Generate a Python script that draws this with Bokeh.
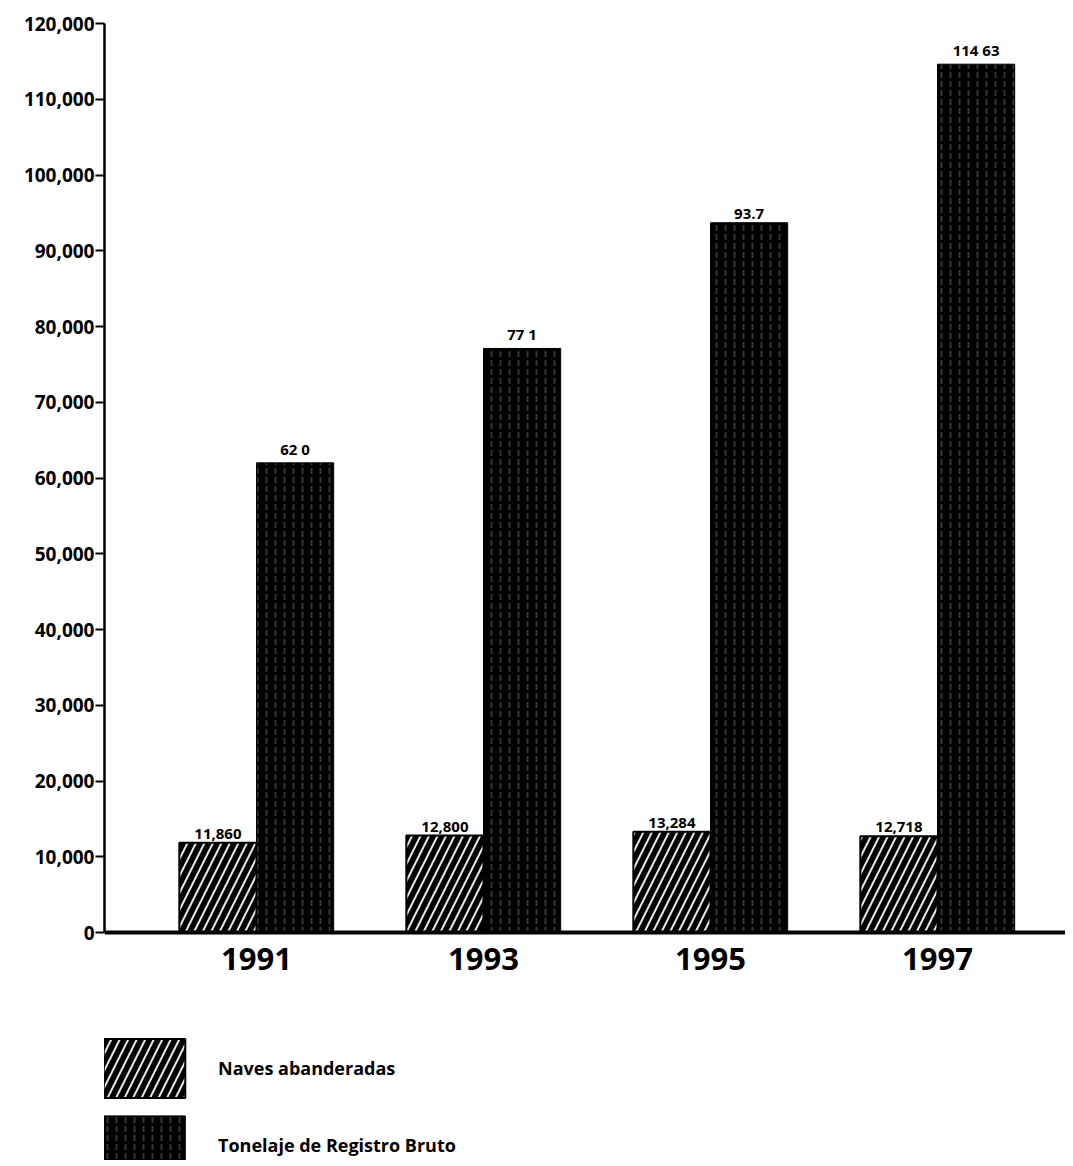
from bokeh.plotting import figure
from bokeh.models import (ColumnDataSource, Range1d, FixedTicker, NumeralTickFormatter,
                          Legend, LegendItem, Span)
from bokeh.core.properties import value
from bokeh.embed import file_html
from bokeh.resources import INLINE

# ---- data ----
years = ["1991", "1993", "1995", "1997"]
naves = [11860, 12800, 13284, 12718]
naves_labels = ["11,860", "12,800", "13,284", "12,718"]
tonelaje = [62000, 77100, 93700, 114630]
tonelaje_labels = ["62 0", "77 1", "93.7", "114 63"]
y_ticks = list(range(0, 120001, 10000))
series_names = ["Naves abanderadas", "Tonelaje de Registro Bruto"]

FONT = "Open Sans"
pos = list(range(len(years)))
off = 0.17
bw = 0.34

W = 1065
H = 1160
LEFT = 104
TOP = 23
BASE = 932
YMAX = 120000
ymin = -(H - BASE) / (BASE - TOP) * YMAX
unit = 227.0
x0 = (LEFT - 256) / unit
x1 = x0 + (W - LEFT) / unit

src_n = ColumnDataSource(dict(x=[p - off for p in pos], top=naves, lab=naves_labels))
src_t = ColumnDataSource(dict(x=[p + off for p in pos], top=tonelaje, lab=tonelaje_labels))
src_y = ColumnDataSource(dict(x=pos, y=[0] * len(pos), lab=years))

p = figure(width=W, height=H, output_backend="svg", toolbar_location=None,
           x_range=Range1d(x0, x1), y_range=Range1d(ymin, YMAX),
           x_axis_location=None,
           min_border_left=LEFT, min_border_right=0, min_border_top=TOP,
           min_border_bottom=0)
p.background_fill_color = "white"
p.border_fill_color = "white"
p.outline_line_color = None
p.grid.visible = False

r_n = p.vbar(x="x", top="top", width=bw, source=src_n, fill_color="black",
             line_color="black", line_width=2, hatch_pattern="right_diagonal_line",
             hatch_color="white", hatch_alpha=0.9, hatch_scale=17, hatch_weight=2)
r_t = p.vbar(x="x", top="top", width=bw, source=src_t, fill_color="black",
             line_color="black", hatch_pattern="vertical_dash",
             hatch_color="#9a9a9a", hatch_alpha=0.35, hatch_scale=9, hatch_weight=2)

for s in (src_n, src_t):
    p.text(x="x", y="top", text="lab", source=s, text_align="center",
           text_baseline="bottom", y_offset=-4, text_font=value(FONT),
           text_font_style="bold", text_font_size="15px", text_color="black")

# baseline (x axis line) and year labels
p.add_layout(Span(location=0, dimension="width", line_color="black", line_width=4))
p.text(x="x", y="y", text="lab", source=src_y, text_align="center",
       text_baseline="top", y_offset=15, text_font=value(FONT),
       text_font_style="bold", text_font_size="31px", text_color="black")

# y axis
p.yaxis.bounds = (0, YMAX)
p.yaxis.ticker = FixedTicker(ticks=y_ticks)
p.yaxis.formatter = NumeralTickFormatter(format="0,0")
p.yaxis.major_label_text_font = FONT
p.yaxis.major_label_text_font_style = "bold"
p.yaxis.major_label_text_font_size = "19px"
p.yaxis.major_label_text_color = "black"
p.yaxis.major_tick_out = 9
p.yaxis.major_tick_in = 0
p.yaxis.major_tick_line_width = 2
p.yaxis.minor_tick_line_color = None
p.yaxis.axis_line_width = 2.5
p.yaxis.major_label_standoff = 1

legend = Legend(items=[LegendItem(label=series_names[0], renderers=[r_n]),
                       LegendItem(label=series_names[1], renderers=[r_t])],
                location=(-11, -22), orientation="vertical",
                glyph_width=102, glyph_height=74, spacing=3, label_standoff=23,
                label_text_font=FONT, label_text_font_style="bold",
                label_text_font_size="18px", label_text_color="black",
                border_line_alpha=0, background_fill_alpha=0,
                padding=0, margin=0)
p.add_layout(legend, "center")

open("out.html", "w").write(file_html(p, INLINE))
